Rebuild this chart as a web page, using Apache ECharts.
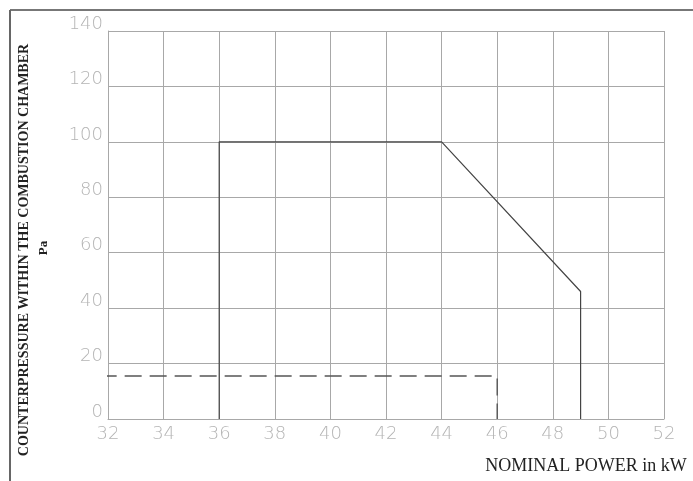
<!DOCTYPE html>
<html>
<head>
<meta charset="utf-8">
<script src="https://cdn.jsdelivr.net/npm/echarts@6/dist/echarts.min.js"></script>
<style>
  html, body { margin: 0; padding: 0; background: #fff; }
  #chart { width: 693px; height: 481px; }
</style>
</head>
<body>
<div id="chart"></div>
<script>
// limite di funzionamento (potenza nominale / contropressione)
var limitPower = [36, 36, 44, 49, 49];
var limitPressure = [0, 100, 100, 46, 0];
// punto di lavoro (tratteggio)
var workPower = [31.7, 46, 46];
var workPressure = [15.5, 15.5, 0];

var xTicks = [32, 34, 36, 38, 40, 42, 44, 46, 48, 50, 52];
var yTicks = [0, 20, 40, 60, 80, 100, 120, 140];

function pairs(xs, ys) {
    var out = [];
    for (var i = 0; i < xs.length; i++) out.push([xs[i], ys[i]]);
    return out;
}

var chart = echarts.init(document.getElementById('chart'));
var labelStyle = {
    color: '#b4b4b4',
    fontFamily: 'DejaVu Sans',
    fontWeight: 200,
    fontSize: 18
};
var gridLine = { show: true, lineStyle: { color: '#a8a8a8', width: 1 } };

chart.setOption({
    animation: false,
    backgroundColor: '#fff',
    grid: { left: 108, right: 29, top: 31, bottom: 62 },
    xAxis: {
        type: 'value',
        min: xTicks[0],
        max: xTicks[xTicks.length - 1],
        interval: 2,
        axisLine: { show: true, lineStyle: { color: '#a8a8a8' } },
        axisTick: { show: false },
        splitLine: gridLine,
        axisLabel: Object.assign({ margin: 6 }, labelStyle)
    },
    yAxis: {
        type: 'value',
        min: yTicks[0],
        max: yTicks[yTicks.length - 1],
        interval: 20,
        axisLine: { show: true, lineStyle: { color: '#a8a8a8' } },
        axisTick: { show: false },
        splitLine: gridLine,
        axisLabel: Object.assign({ margin: 5, verticalAlign: 'bottom', lineHeight: 14 }, labelStyle)
    },
    graphic: [
        { type: 'line', shape: { x1: 10, y1: 10, x2: 693, y2: 10 }, style: { stroke: '#777', lineWidth: 2 } },
        { type: 'line', shape: { x1: 10, y1: 10, x2: 10, y2: 481 }, style: { stroke: '#666', lineWidth: 2 } },
        {
            type: 'text', x: 24, y: 250, rotation: Math.PI / 2,
            style: {
                text: 'COUNTERPRESSURE WITHIN THE COMBUSTION CHAMBER',
                font: 'bold 14px "Liberation Serif"', fill: '#222',
                align: 'center', verticalAlign: 'middle'
            }
        },
        {
            type: 'text', x: 44, y: 248, rotation: Math.PI / 2,
            style: {
                text: 'Pa', font: 'bold 13px "Liberation Serif"', fill: '#222',
                align: 'center', verticalAlign: 'middle'
            }
        },
        {
            type: 'text', x: 586, y: 466,
            style: {
                text: 'NOMINAL POWER in kW', font: '18px "Liberation Serif"', fill: '#222',
                align: 'center', verticalAlign: 'middle'
            }
        }
    ],
    series: [
        {
            type: 'line',
            data: pairs(limitPower, limitPressure),
            symbol: 'none',
            lineStyle: { color: '#444', width: 1.2 }
        },
        {
            type: 'line',
            data: pairs(workPower, workPressure),
            symbol: 'none',
            clip: false,
            lineStyle: { color: '#555', width: 1.4, type: [17, 8] }
        }
    ]
});
</script>
</body>
</html>
